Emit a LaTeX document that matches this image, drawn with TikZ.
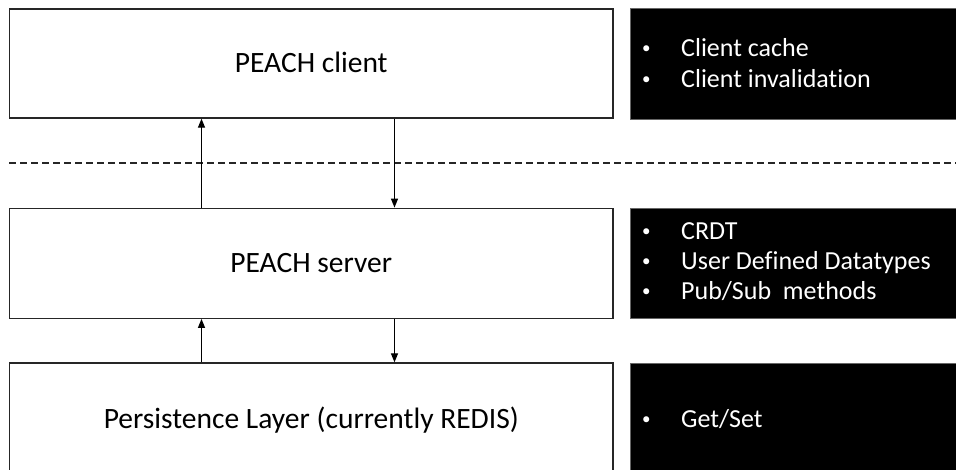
\documentclass[tikz,border=0pt]{standalone}
\usepackage{fontspec}
\setmainfont{Carlito}[Ligatures=CommonOff]
\usetikzlibrary{arrows.meta}
\newcommand{\bul}{\makebox[40pt][l]{\hspace{1pt}\raisebox{3pt}{\fontsize{17}{17}\selectfont •}}}
\begin{document}
\begin{tikzpicture}[x=1pt,y=-1pt,
  layerbox/.style={draw=black!85, line width=1.3pt, fill=white, inner sep=0pt,
    minimum width=603.5pt, text height=19pt, text depth=0pt, font=\fontsize{29.5}{34}\selectfont},
  infobox/.style={draw=black!60, line width=0.8pt, fill=black, inner sep=0pt, minimum width=330pt},
  itemtext/.style={text=white, inner sep=0pt, anchor=base west, font=\fontsize{26}{30}\selectfont},
  flow/.style={draw=black, line width=1.2pt, -{Triangle[length=9pt,width=7pt]}},
  sep/.style={draw=black!85, line width=1.2pt, dash pattern=on 7pt off 4pt}
]
\clip (0,0) rectangle (956,470);
\fill[white] (0,0) rectangle (956,470);

% layer boxes
\node[layerbox, minimum height=109pt] (cli) at (311.25,63.5) {PEACH client};
\node[layerbox, minimum height=110pt] (srv) at (311.25,263.25) {PEACH server};
\node[layerbox, minimum height=112pt] (per) at (311.25,419) {Persistence Layer (currently REDIS)};

% info boxes
\node[infobox, minimum height=111pt] (icli) at (795,63.5) {};
\node[infobox, minimum height=110pt] (isrv) at (795,263.25) {};
\node[infobox, minimum height=114pt] (iper) at (795,420) {};

\node[itemtext] (c1) at (641,57) {\bul Client cache};
\node[itemtext] (c2) at (641,88) {\bul Client invalidation};
\node[itemtext] (s1) at (641,240) {\bul CRDT};
\node[itemtext] (s2) at (641,270) {\bul User Defined Datatypes};
\node[itemtext] (s3) at (641,300) {\bul Pub/Sub\ \ methods};
\node[itemtext] (p1) at (641,427) {\bul Get/Set};

% dashed separator
\coordinate (dl) at (9,163);
\coordinate (dr) at (956,163);
\draw[sep] (dl) -- (dr);

% arrows
\coordinate (ax) at (201.5,0);
\coordinate (bx) at (394.5,0);
\draw[flow] (ax |- srv.north) -- (ax |- cli.south);
\draw[flow] (bx |- cli.south) -- (bx |- srv.north);
\draw[flow] (ax |- per.north) -- (ax |- srv.south);
\draw[flow] (bx |- srv.south) -- (bx |- per.north);
\end{tikzpicture}
\end{document}
